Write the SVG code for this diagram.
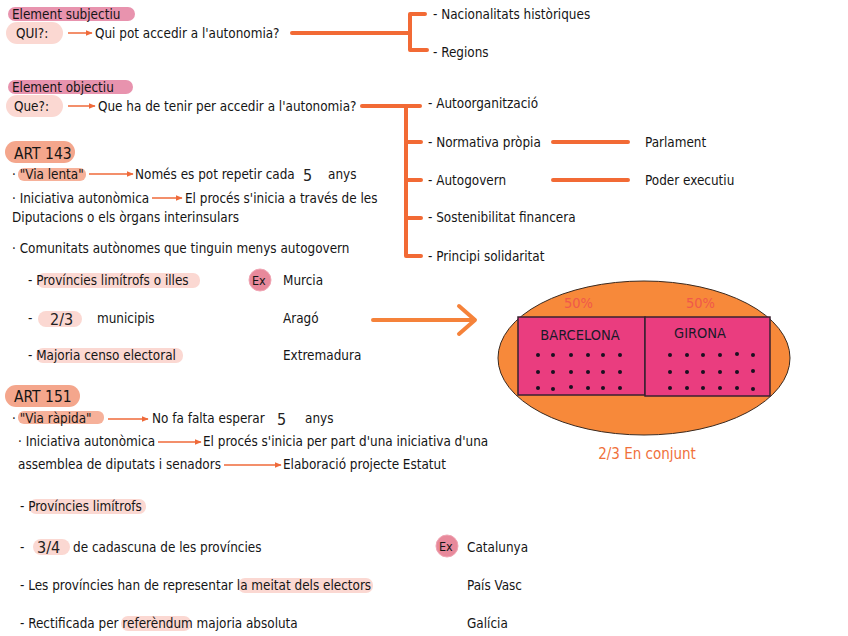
<svg xmlns="http://www.w3.org/2000/svg" width="848" height="636" viewBox="0 0 848 636">
<defs>
<marker id="ah" viewBox="0 0 10 10" refX="9" refY="5" markerWidth="7" markerHeight="7" markerUnits="userSpaceOnUse" orient="auto"><path d="M0,1 L10,5 L0,9 z" fill="#ef6a3a"/></marker>
<style>
text{font-family:"DejaVu Sans Condensed","Liberation Sans Narrow","Liberation Sans",sans-serif;font-size:13.4px;fill:#151515}
.big{font-size:15.5px}
.num{font-size:16px;fill:#222}
.pct{font-size:14.5px;fill:#f0584a}
.city{font-size:14.5px;fill:#1a1a2a;text-anchor:middle}
.ora{fill:#f0703a;font-size:15px}
.exl{font-size:12.5px}
.thick{stroke:#f26a35;stroke-width:4;fill:none;stroke-linecap:round;stroke-linejoin:round}
.thin{stroke:#ef6a3a;stroke-width:1.5;fill:none;marker-end:url(#ah)}
.pink{fill:#e893ae}
.pale{fill:#fbd8d2}
.salmon{fill:#f4a68c}
.hl{fill:#f6b19a}
.ex{fill:#e8899b;stroke:#f0a6b4;stroke-width:1}
.dot{fill:#1a1020}
</style>
</defs>
<rect width="848" height="636" fill="#ffffff"/>

<g id="connectors">
<line class="thin" x1="68" y1="33" x2="92" y2="33"/>
<path class="thick" d="M292,33 H410"/>
<path class="thick" d="M425,14 H410 V50 H427"/>
<line class="thin" x1="68" y1="106" x2="95" y2="106"/>
<path class="thick" d="M362,106 H420"/>
<path class="thick" d="M406,106 V256 H421 M406,142 H421 M406,180 H421 M406,218 H421"/>
<path class="thick" d="M553,142 H628 M553,180 H628"/>
<line class="thin" x1="89" y1="174" x2="133" y2="174"/>
<line class="thin" x1="152" y1="198" x2="182" y2="198"/>
<path d="M373,320 H474 M459,306 L475,320 L459,334" stroke="#f5823a" stroke-width="4" fill="none" stroke-linecap="round" stroke-linejoin="round"/>
<line class="thin" x1="108" y1="419" x2="148" y2="419"/>
<line class="thin" x1="158" y1="442" x2="201" y2="442"/>
<line class="thin" x1="224" y1="465" x2="281" y2="465"/>
</g>

<g id="subjectiu">
<rect class="pink" x="8" y="7" width="127" height="14" rx="7"/>
<text x="12" y="19">Element subjectiu</text>
<rect class="pale" x="6" y="22" width="57" height="22" rx="11"/>
<text x="16" y="38">QUI?:</text>
<text x="95" y="38">Qui pot accedir a l'autonomia?</text>
</g>

<g id="qui-branques">
<text x="433" y="19">- Nacionalitats històriques</text>
<text x="433" y="57">- Regions</text>
</g>

<g id="objectiu">
<rect class="pink" x="8" y="80" width="125" height="14" rx="7"/>
<text x="12" y="92">Element objectiu</text>
<rect class="pale" x="6" y="95" width="57" height="22" rx="11"/>
<text x="14" y="111">Que?:</text>
<text x="98" y="111">Que ha de tenir per accedir a l'autonomia?</text>
</g>

<g id="que-branques">
<text x="428" y="108">- Autoorganització</text>
<text x="428" y="147">- Normativa pròpia</text>
<text x="428" y="185">- Autogovern</text>
<text x="428" y="222">- Sostenibilitat financera</text>
<text x="428" y="261">- Principi solidaritat</text>
<text x="645" y="147">Parlament</text>
<text x="645" y="185">Poder executiu</text>
</g>

<g id="art143">
<rect class="salmon" x="5" y="141" width="70" height="22" rx="11"/>
<text class="big" x="14" y="159">ART 143</text>
<rect class="hl" x="18" y="168" width="68" height="13" rx="6"/>
<text x="12" y="179">· "Via lenta"</text>
<text x="135" y="179">Només es pot repetir cada</text>
<text class="num" x="303" y="181">5</text>
<text x="328" y="179">anys</text>
<text x="12" y="203">· Iniciativa autonòmica</text>
<text x="185" y="203">El procés s'inicia a través de les</text>
<text x="12" y="222">Diputacions o els òrgans interinsulars</text>
<text x="12" y="253">· Comunitats autònomes que tinguin menys autogovern</text>
<rect class="pale" x="37" y="273" width="163" height="15" rx="7"/>
<text x="28" y="285">- Províncies limítrofs  o illes</text>
<rect class="pale" x="38" y="311" width="44" height="16" rx="8"/>
<text x="28" y="323">-</text>
<text class="num" x="50" y="325">2/3</text>
<text x="97" y="323">municipis</text>
<rect class="pale" x="36" y="348" width="147" height="15" rx="7"/>
<text x="28" y="360">- Majoria censo electoral</text>
<circle class="ex" cx="260" cy="280" r="11"/>
<text class="exl" x="252" y="285">Ex</text>
<text x="283" y="285">Murcia</text>
<text x="283" y="323">Aragó</text>
<text x="283" y="360">Extremadura</text>
</g>

<g id="mapa">
<ellipse cx="644" cy="358" rx="146" ry="77" fill="#f7893a" stroke="#3a2a20" stroke-width="1"/>
<rect x="518" y="317" width="127" height="78" fill="#ea3d7f" stroke="#3a2030" stroke-width="1.5"/>
<rect x="645" y="317" width="125" height="79" fill="#ea3d7f" stroke="#3a2030" stroke-width="1.5"/>
<text class="pct" x="564" y="308">50%</text>
<text class="pct" x="686" y="308">50%</text>
<text class="city" x="580" y="340">BARCELONA</text>
<text class="city" x="700" y="338">GIRONA</text>
<g>
<circle class="dot" cx="538" cy="355" r="2"/><circle class="dot" cx="553" cy="355" r="2"/><circle class="dot" cx="571" cy="355" r="2"/><circle class="dot" cx="588" cy="355" r="2"/><circle class="dot" cx="603" cy="355" r="2"/><circle class="dot" cx="620" cy="355" r="2"/>
<circle class="dot" cx="538" cy="372" r="2"/><circle class="dot" cx="553" cy="372" r="2"/><circle class="dot" cx="571" cy="372" r="2"/><circle class="dot" cx="588" cy="372" r="2"/><circle class="dot" cx="603" cy="372" r="2"/><circle class="dot" cx="620" cy="372" r="2"/>
<circle class="dot" cx="538" cy="388" r="2"/><circle class="dot" cx="553" cy="389" r="2"/><circle class="dot" cx="571" cy="387" r="2"/><circle class="dot" cx="588" cy="388" r="2"/><circle class="dot" cx="603" cy="388" r="2"/><circle class="dot" cx="620" cy="388" r="2"/>
<circle class="dot" cx="670" cy="355" r="2"/><circle class="dot" cx="687" cy="355" r="2"/><circle class="dot" cx="703" cy="355" r="2"/><circle class="dot" cx="720" cy="355" r="2"/><circle class="dot" cx="737" cy="354" r="2"/><circle class="dot" cx="753" cy="355" r="2"/>
<circle class="dot" cx="670" cy="372" r="2"/><circle class="dot" cx="687" cy="372" r="2"/><circle class="dot" cx="703" cy="372" r="2"/><circle class="dot" cx="720" cy="372" r="2"/><circle class="dot" cx="737" cy="372" r="2"/><circle class="dot" cx="753" cy="371" r="2"/>
<circle class="dot" cx="670" cy="388" r="2"/><circle class="dot" cx="687" cy="388" r="2"/><circle class="dot" cx="703" cy="388" r="2"/><circle class="dot" cx="720" cy="388" r="2"/><circle class="dot" cx="737" cy="388" r="2"/><circle class="dot" cx="753" cy="389" r="2"/>
</g>
<text class="ora" x="647" y="459" text-anchor="middle">2/3 En conjunt</text>
</g>

<g id="art151">
<rect class="salmon" x="5" y="385" width="75" height="22" rx="11"/>
<text class="big" x="14" y="402">ART 151</text>
<rect class="hl" x="18" y="411" width="86" height="13" rx="6"/>
<text x="12" y="423">· "Via ràpida"</text>
<text x="152" y="423">No fa falta esperar</text>
<text class="num" x="277" y="425">5</text>
<text x="305" y="423">anys</text>
<text x="18" y="446">· Iniciativa autonòmica</text>
<text x="203" y="446">El procés s'inicia per part d'una iniciativa d'una</text>
<text x="18" y="469">assemblea de diputats i senadors</text>
<text x="283" y="469">Elaboració projecte Estatut</text>
<rect class="pale" x="29" y="499" width="117" height="15" rx="7"/>
<text x="20" y="511">- Províncies limítrofs</text>
<rect class="pale" x="33" y="539" width="37" height="16" rx="8"/>
<text x="20" y="552">-</text>
<text class="num" x="37" y="553">3/4</text>
<text x="73" y="552">de cadascuna de les províncies</text>
<rect class="pale" x="238" y="578" width="135" height="15" rx="7"/>
<text x="20" y="590">- Les províncies han de representar la meitat dels electors</text>
<rect class="pale" x="121" y="616" width="70" height="15" rx="7"/>
<text x="20" y="628">- Rectificada per referèndum majoria absoluta</text>
<circle class="ex" cx="447" cy="546" r="11"/>
<text class="exl" x="439" y="551">Ex</text>
<text x="467" y="552">Catalunya</text>
<text x="467" y="590">País Vasc</text>
<text x="467" y="628">Galícia</text>
</g>
</svg>
